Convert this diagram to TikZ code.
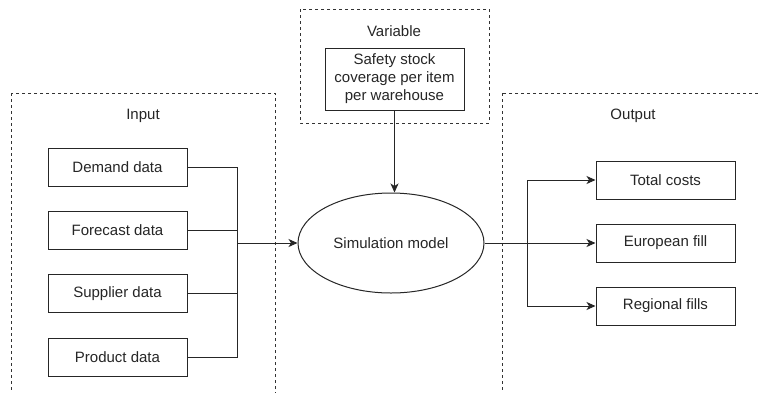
\documentclass[tikz,border=0pt]{standalone}
\usepackage{fontspec}
\setmainfont{Liberation Sans}
\usetikzlibrary{arrows.meta,shapes.geometric}

\tikzset{
  px/.style={x=1pt,y=-1pt},
  group/.style={draw=black!80, line width=0.9pt, dash pattern=on 3pt off 3pt},
  databox/.style={draw=black!85, line width=1pt, minimum width=139pt, minimum height=38pt,
    inner sep=0pt, font=\fontsize{15}{18}\selectfont, text=black!85},
  model/.style={draw=black!85, line width=1pt, ellipse, minimum width=186pt, minimum height=100pt,
    inner sep=0pt, font=\fontsize{15}{18}\selectfont, text=black!85},
  caption/.style={font=\fontsize{15}{18}\selectfont, text=black!85},
  wire/.style={draw=black!85, line width=1pt},
  flow/.style={wire, -{Stealth[length=9pt,width=8pt,inset=2.5pt]}}
}

\begin{document}
\begin{tikzpicture}[px]
  \useasboundingbox (0,0) rectangle (758,392);
  \clip (0,0) rectangle (758,392);
  \fill[white] (0,0) rectangle (758,392);

  % dashed grouping frames
  \draw[group] (11,93) rectangle (275,400);
  \draw[group] (502,93) rectangle (770,400);
  \draw[group] (300,9) rectangle (489,123);

  \node[caption] (inlbl) at (143,116) {Input};
  \node[caption] (outlbl) at (633,116) {Output};
  \node[caption] (varlbl) at (394,31) {Variable};

  % input data sources
  \node[databox] (demand)   at (117.5,167.5) {Demand data};
  \node[databox] (forecast) at (117.5,230.5) {Forecast data};
  \node[databox] (supplier) at (117.5,293.5) {Supplier data};
  \node[databox] (product)  at (117.5,357)   {Product data};

  % variable
  \node[databox, minimum height=62pt, align=center] (safety) at (394.5,79)
    {Safety stock\\coverage per item\\per warehouse};

  % model
  \node[model] (sim) at (391,243) {Simulation model};

  % outputs
  \node[databox] (costs)    at (665.5,180) {Total costs};
  \node[databox] (european) at (665.5,243) {European fill};
  \node[databox] (regional) at (665.5,306) {Regional fills};

  % input bus
  \coordinate (bin) at (237,243);
  \draw[wire] (demand.east) -| (bin);
  \draw[wire] (forecast.east) -- (forecast.east -| bin);
  \draw[wire] (supplier.east) -- (supplier.east -| bin);
  \draw[wire] (product.east) -| (bin);
  \draw[flow] (bin) -- (sim.west);

  % variable into model
  \draw[flow] (safety.south) -- (safety.south |- sim.north);

  % output bus
  \coordinate (bout) at (527,243);
  \draw[flow] (sim.east) -- (european.west);
  \draw[flow] (bout) |- (costs.west);
  \draw[flow] (bout) |- (regional.west);
\end{tikzpicture}
\end{document}
